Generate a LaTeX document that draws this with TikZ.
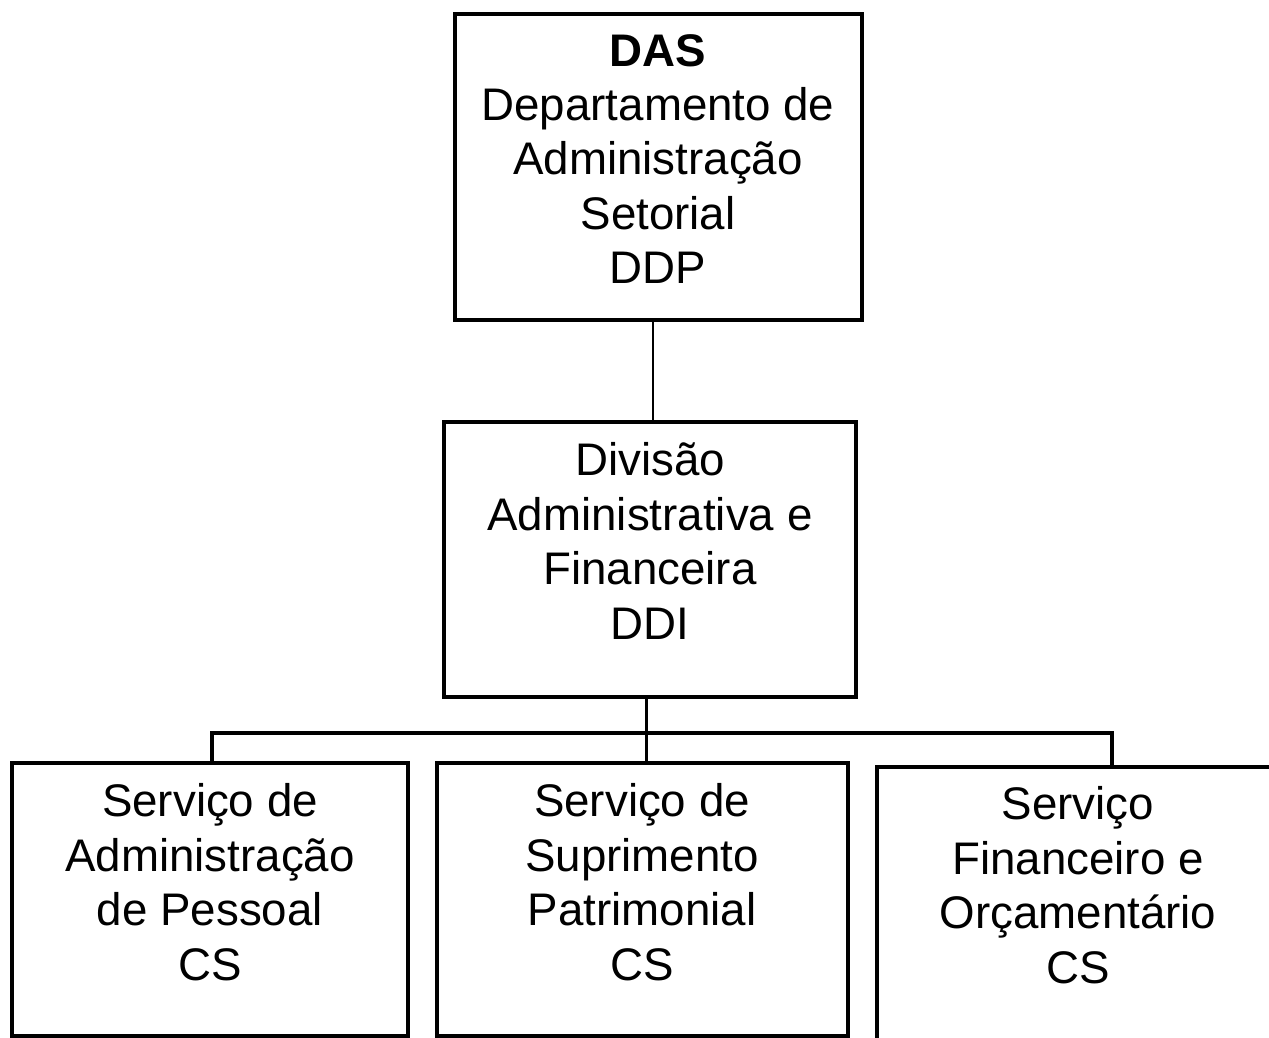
\documentclass[tikz,border=0pt]{standalone}
\usepackage{fontspec}
\setmainfont{Liberation Sans}

\begin{document}
\begin{tikzpicture}[x=0.02cm,y=-0.02cm,every text node part/.style={align=center},
	box/.style={draw, line width=2pt, inner sep=0pt},
	txt/.style={font=\fontsize{26}{31}\selectfont, inner sep=0pt},
	link/.style={line width=1.4pt}]
		
		\useasboundingbox (0,0) rectangle (1269,1038);
		\clip (0,0) rectangle (1269,1038);
		
		% boxes
		\node[box, minimum width=8.14cm, minimum height=6.12cm] (das) at (658.5,167) {};
		\node[box, minimum width=8.24cm, minimum height=5.5cm] (ddi) at (650,559.5) {};
		\node[box, minimum width=7.92cm, minimum height=5.46cm] (sap) at (210,899.5) {};
		\node[box, minimum width=8.22cm, minimum height=5.46cm] (sup) at (642.5,899.5) {};
		\node[box, minimum width=8.06cm, minimum height=6.06cm] (sfo) at (1078.5,918.5) {};
		
		% texts
		\node[txt] (dastxt) at (658,159) {\textbf{DAS}\\Departamento de\\Administração\\Setorial\\DDP};
		\node[txt] (dditxt) at (650,541) {Divisão\\Administrativa e\\Financeira\\DDI};
		\node[txt] (saptxt) at (210,882) {Serviço de\\Administração\\de Pessoal\\CS};
		\node[txt] (suptxt) at (642,882) {Serviço de\\Suprimento\\Patrimonial\\CS};
		\node[txt] (sfotxt) at (1078,885) {Serviço\\Financeiro e\\Orçamentário\\CS};
		
		% connectors
		\coordinate (busL) at (212,733);
		\coordinate (busR) at (1112,733);
		\draw[link] ([xshift=-3pt]das.south) -- ([xshift=-3pt]das.south |- ddi.north);
		\draw[link] ([xshift=-2pt]ddi.south) -- ([xshift=-2pt]ddi.south |- sup.north);
		\draw[link, line width=2.2pt] (busL |- sap.north) -- (busL) -- (busR) -- (busR |- sfo.north);
		
		\end{tikzpicture}
\end{document}
